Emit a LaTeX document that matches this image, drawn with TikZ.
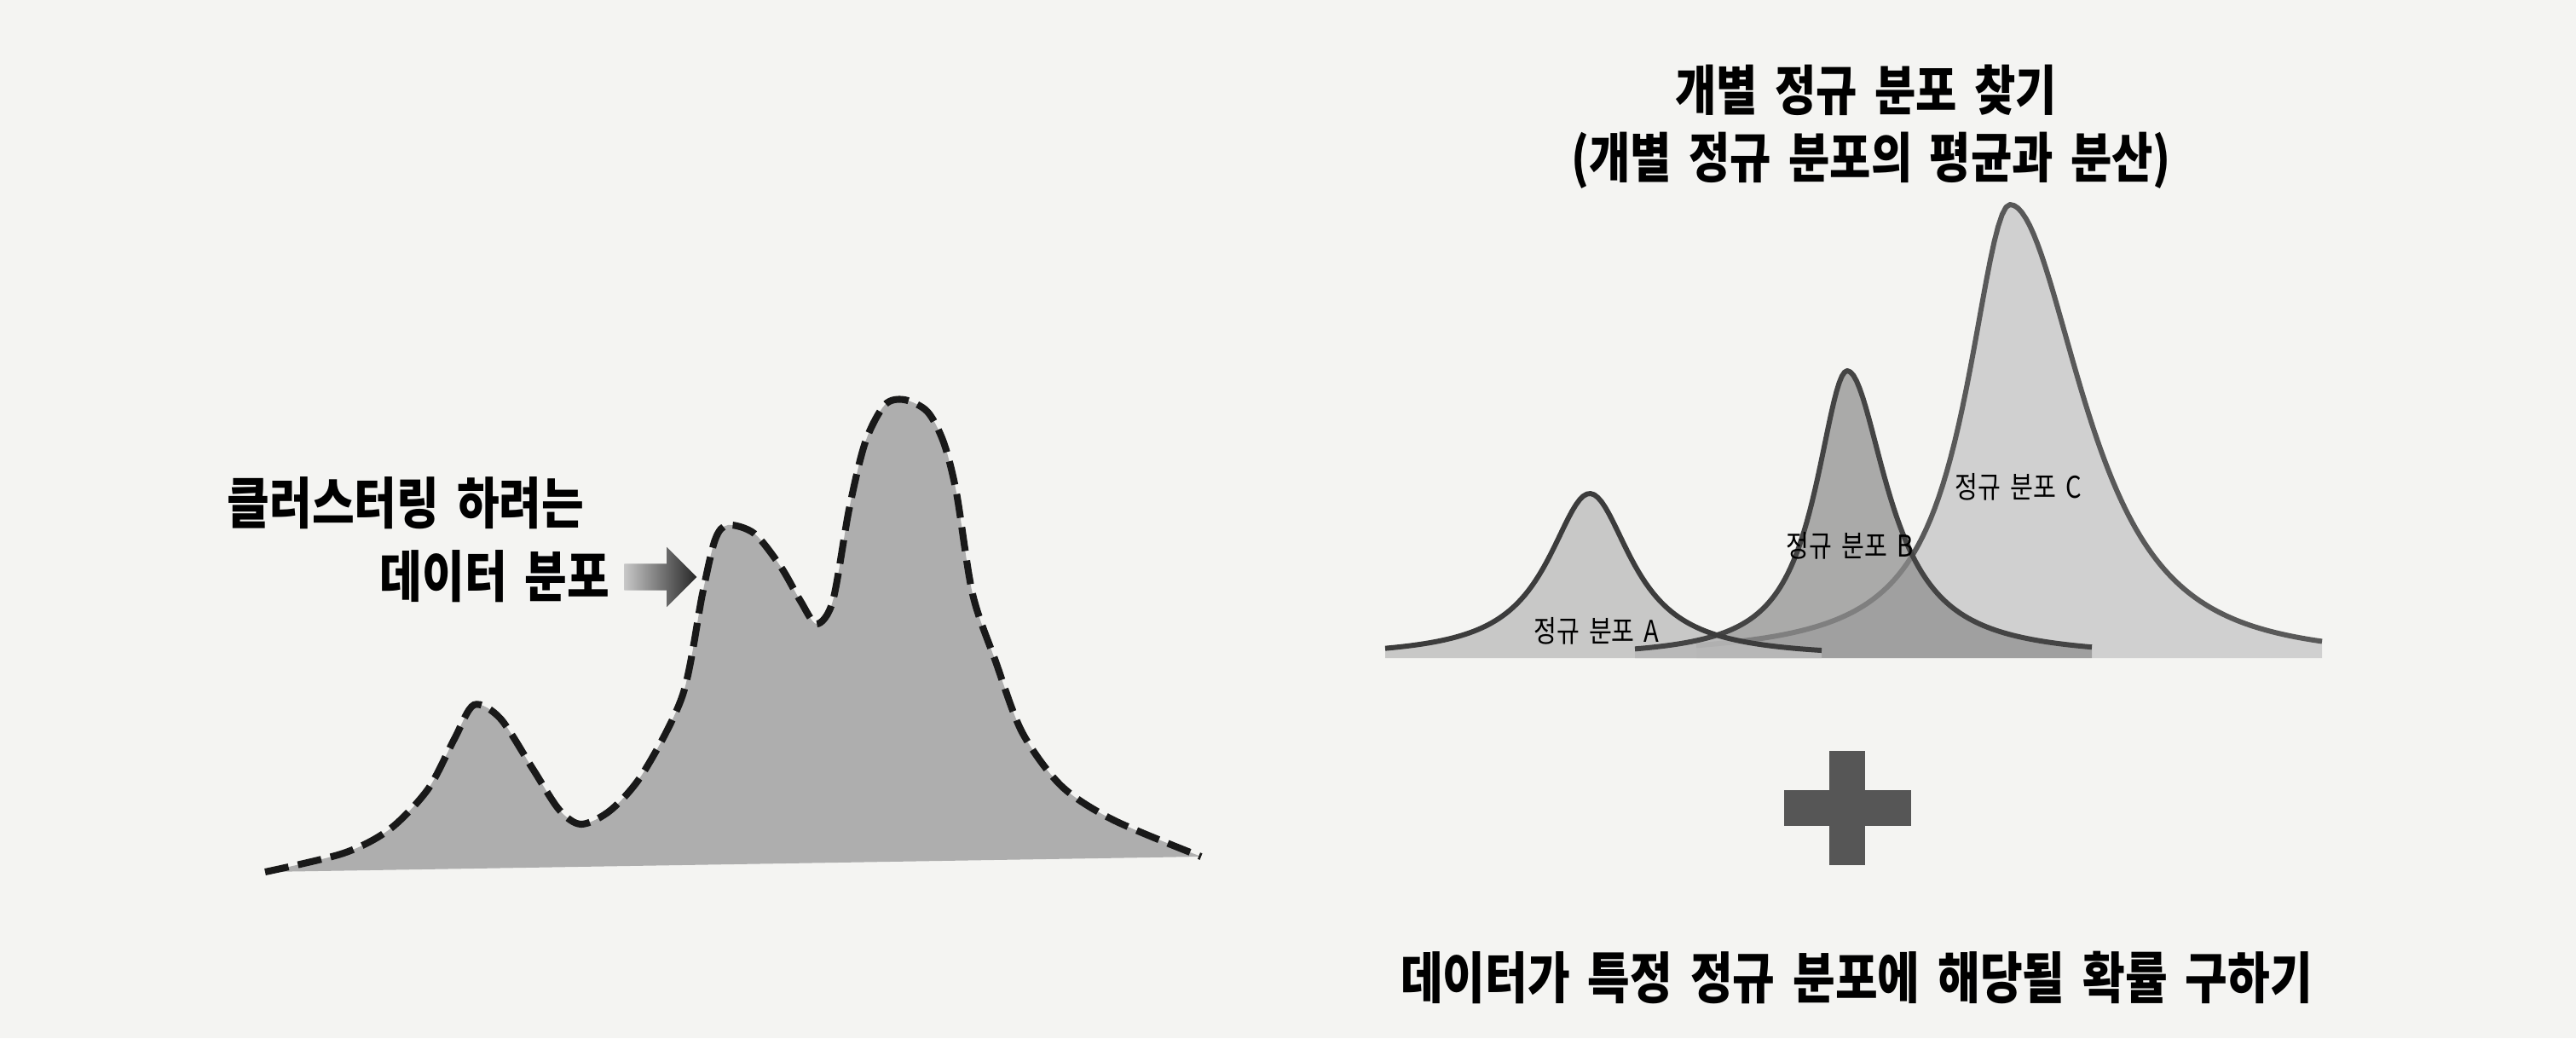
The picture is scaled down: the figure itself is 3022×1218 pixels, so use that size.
\documentclass[tikz,border=0pt]{standalone}
\usepackage{fontspec}
\newfontfamily\krfont{Noto Sans CJK KR}[FakeStretch=0.83, WordSpace=1.7]
\usetikzlibrary{positioning,shapes.arrows}
\definecolor{paper}{HTML}{F4F4F2}
\definecolor{datagray}{HTML}{AEAEAE}
\definecolor{lineA}{HTML}{3C3C3C}
\definecolor{lineB}{HTML}{444444}
\definecolor{lineC}{HTML}{595959}
\definecolor{fillA}{HTML}{BDBDBD}
\definecolor{fillB}{HTML}{8E8E8E}
\definecolor{fillC}{HTML}{D0D0D0}
\definecolor{plusgray}{HTML}{565656}

\begin{document}
\begin{tikzpicture}[x=0.01cm, y=-0.01cm,
    declare function={lor(\t,\w)=1/(1+(\t/\w)*(\t/\w));
                      pk(\t,\w)=1/((1+(\t/\w)*(\t/\w))*sqrt(1+(\t/\w)*(\t/\w)));},
    title/.style={font=\krfont\bfseries\fontsize{18}{21}\selectfont, inner sep=0},
    tag/.style={font=\krfont\fontsize{10}{11}\selectfont, inner sep=0},
    curve/.style={line width=1.7pt, line join=round},
    datacurve/.style={line width=2.3pt, draw=black!90, dash pattern=on 8pt off 3.2pt}]
    \useasboundingbox (0,0) rectangle (3022,1218);
    \fill[paper] (0,0) rectangle (3022,1218);

    % 데이터 분포
    \fill[datagray] plot[smooth] coordinates {(311,1023) (403,1001) (457,973) (502,926) (533,867)
        (556,827) (587,843) (625,902) (656,950) (682,967) (717,950) (755,906) (801,815) (824,697)
        (839,633) (854,616) (885,626) (916,665) (939,705) (958,732) (977,705) (996,598) (1015,519)
        (1038,475) (1061,469) (1088,483) (1107,519) (1122,578) (1141,697) (1168,776) (1199,859)
        (1245,922) (1306,962) (1409,1005)} -- cycle;
    \draw[datacurve] plot[smooth] coordinates {(311,1023) (403,1001) (457,973) (502,926) (533,867)
        (556,827) (587,843) (625,902) (656,950) (682,967) (717,950) (755,906) (801,815) (824,697)
        (839,633) (854,616) (885,626) (916,665) (939,705) (958,732) (977,705) (996,598) (1015,519)
        (1038,475) (1061,469) (1088,483) (1107,519) (1122,578) (1141,697) (1168,776) (1199,859)
        (1245,922) (1306,962) (1409,1005)};

    \node[title, font=\krfont\bfseries\fontsize{18.5}{21}\selectfont, anchor=west] (lbl1) at (266,590) {클러스터링 하려는};
    \node[title, font=\krfont\bfseries\fontsize{18.5}{21}\selectfont, anchor=east] (lbl2) at (716,676) {데이터 분포};
    \node[single arrow, shade, left color=black!22, middle color=black!78, right color=black!85,
          draw=none, minimum height=0.85cm, single arrow head extend=0.195cm,
          inner xsep=0, inner ysep=0.15cm] (pointer) at (767,677) {};

    % 정규 분포 C
    \fill[fillC] plot[domain=1990:2358, samples=80] (\x, {772-532*lor(\x-2358,62)})
        -- plot[domain=2358:2724, samples=80] (\x, {772-532*pk(\x-2358,129)}) -- (2724,772) -- (1990,772) -- cycle;
    \draw[curve, lineC] plot[domain=1990:2358, samples=80] (\x, {772-532*lor(\x-2358,62)})
        -- plot[domain=2358:2724, samples=80] (\x, {772-532*pk(\x-2358,129)});

    % 정규 분포 B, A
    \fill[fillB, fill opacity=0.72] plot[domain=1918:2167, samples=80] (\x, {772-337*lor(\x-2167,45)})
        -- plot[domain=2167:2454, samples=80] (\x, {772-337*lor(\x-2167,57)}) -- (2454,772) -- (1918,772) -- cycle;
    \fill[fillA, fill opacity=0.8] plot[domain=1625:2137, samples=120] (\x, {772-193*lor(\x-1865,60)})
        -- (2137,772) -- (1625,772) -- cycle;
    \draw[curve, lineB] plot[domain=1918:2167, samples=80] (\x, {772-337*lor(\x-2167,45)})
        -- plot[domain=2167:2454, samples=80] (\x, {772-337*lor(\x-2167,57)});
    \draw[curve, lineA] plot[domain=1625:2137, samples=120] (\x, {772-193*lor(\x-1865,60)});

    \node[tag] (tagA) at (1873,740) {정규 분포 A};
    \node[tag] (tagB) at (2170,640) {정규 분포 B};
    \node[tag] (tagC) at (2368,571) {정규 분포 C};

    % 제목
    \node[title] (head1) at (2189,106) {개별 정규 분포 찾기};
    \node[title] (head2) at (2195,188) {(개별 정규 분포의 평균과 분산)};

    % 더하기
    \fill[plusgray] (2146,881) rectangle (2188,1015);
    \fill[plusgray] (2093,927) rectangle (2242,969);

    \node[title, font=\krfont\bfseries\fontsize{18.5}{21}\selectfont] (foot) at (2178,1147) {데이터가 특정 정규 분포에 해당될 확률 구하기};
\end{tikzpicture}
\end{document}
